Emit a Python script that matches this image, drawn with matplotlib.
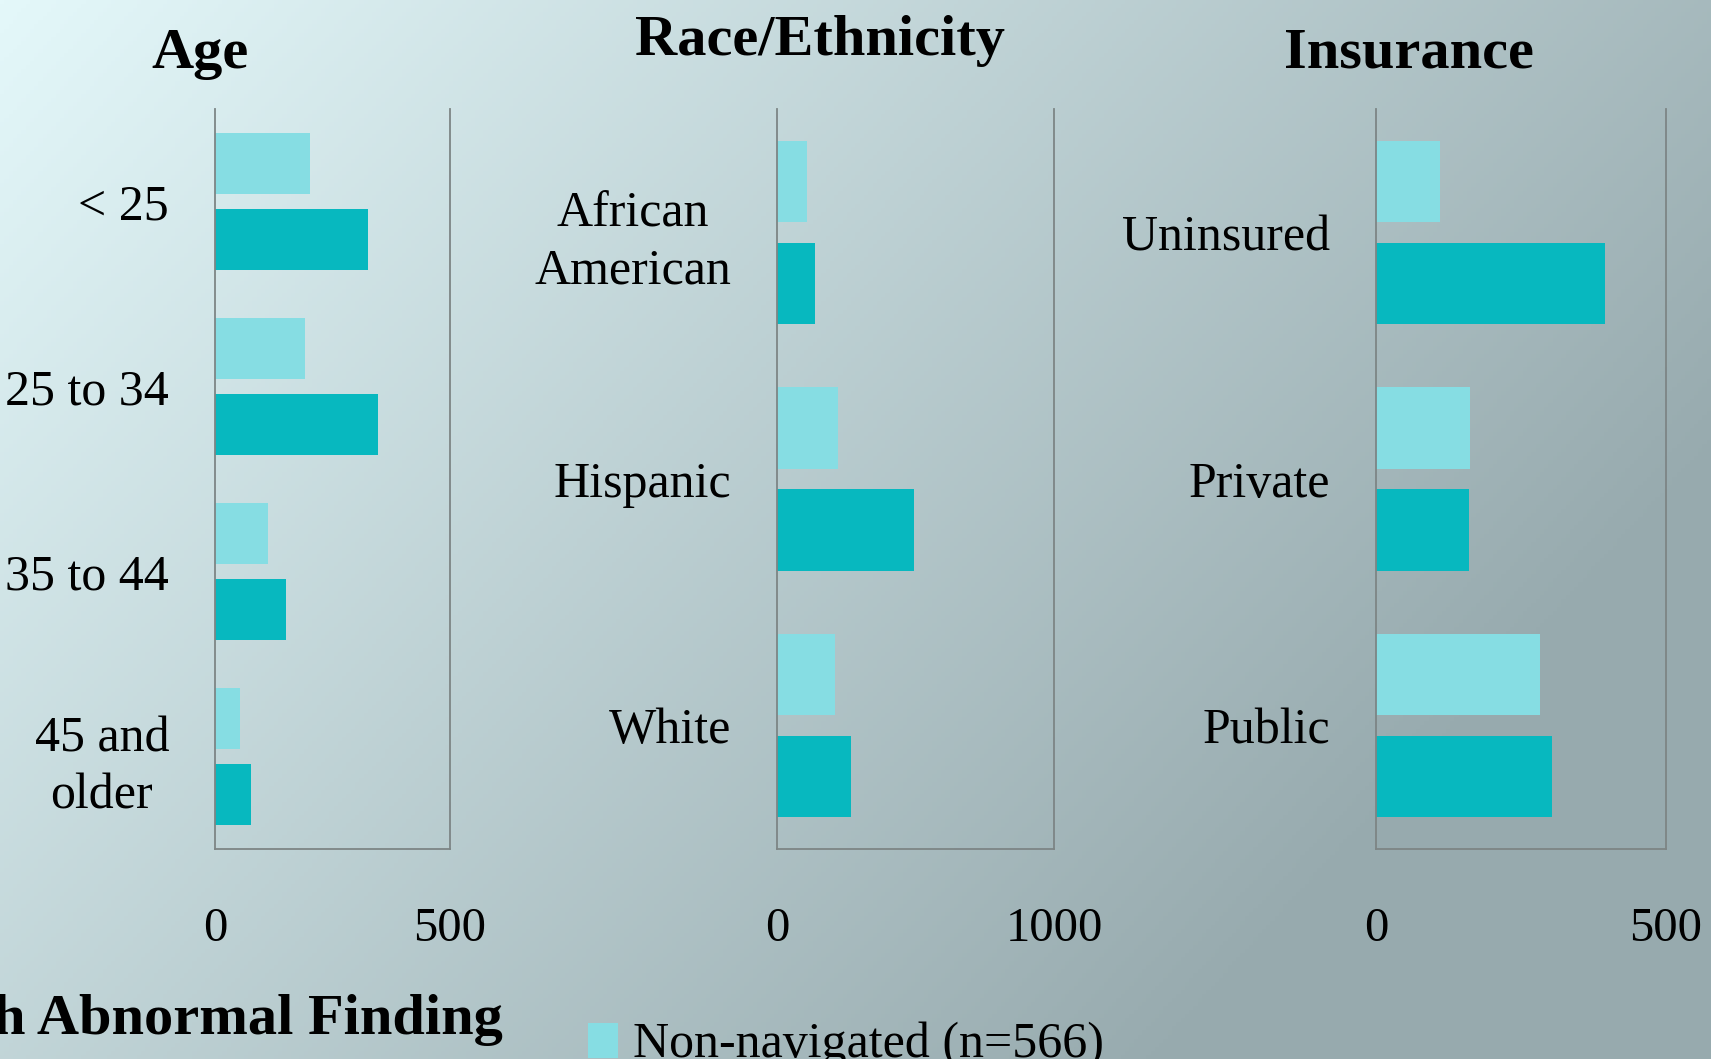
import numpy as np
import matplotlib
matplotlib.use("Agg")
import matplotlib.pyplot as plt
from matplotlib.colors import to_rgb

# values
age_cats = ["< 25", "25 to 34", "35 to 44", "45 and\nolder"]
age_non = [202, 191, 112, 53]
age_nav = [326, 347, 151, 77]

race_cats = ["African\nAmerican", "Hispanic", "White"]
race_non = [110, 220, 209]
race_nav = [138, 496, 268]

ins_cats = ["Uninsured", "Private", "Public"]
ins_non = [111, 162, 282]
ins_nav = [395, 160, 303]

light = "#86dde3"
dark = "#07b8bf"
spine_col = "#7d8585"

plt.rcParams["font.family"] = ["Liberation Serif", "DejaVu Serif"]

W, H = 1711, 1059
fig = plt.figure(figsize=(W / 100, H / 100), dpi=100)

# background gradient (light cyan top-left -> grey-blue right)
bg = fig.add_axes([0, 0, 1, 1], zorder=-10)
xx, yy = np.meshgrid(np.linspace(0, 1, 400), np.linspace(0, 1, 260))
t = np.clip(0.8 * xx + 0.45 * yy, 0, 1)[..., None]
c0 = np.array(to_rgb("#e4f8fa"))
c1 = np.array(to_rgb("#97aaae"))
bg.imshow(c0 * (1 - t) + c1 * t, aspect="auto", extent=[0, 1, 1, 0])
bg.set_axis_off()


def px_axes(left, right, top, bottom):
    return fig.add_axes([left / W, 1 - bottom / H, (right - left) / W, (bottom - top) / H])


def panel(ax, cats, non, nav, xmax):
    y = np.arange(len(cats))
    h = 0.33
    off = 0.2065
    ax.barh(y - off, non, height=h, color=light, label="Non-navigated (n=566)")
    ax.barh(y + off, nav, height=h, color=dark)
    ax.set_ylim(len(cats) - 0.5, -0.5)
    ax.set_xlim(0, xmax)
    ax.set_xticks([0, xmax])
    ax.set_yticks(y)
    ax.set_yticklabels(cats)
    for lab in ax.get_yticklabels():
        lab.set_multialignment("center")
        lab.set_linespacing(1.3)
    ax.tick_params(axis="y", length=0, pad=33, labelsize=36)
    ax.tick_params(axis="x", length=0, pad=42, labelsize=35)
    ax.patch.set_alpha(0)
    ax.spines["top"].set_visible(False)
    for s in ["left", "right", "bottom"]:
        ax.spines[s].set_color(spine_col)
        ax.spines[s].set_linewidth(1.3)


ax1 = px_axes(215, 450, 109, 849)
panel(ax1, age_cats, age_non, age_nav, 500)
ax2 = px_axes(777, 1054, 109, 849)
panel(ax2, race_cats, race_non, race_nav, 1000)
ax3 = px_axes(1376, 1666, 109, 849)
panel(ax3, ins_cats, ins_non, ins_nav, 500)

title_kw = dict(fontsize=42, fontweight="bold", ha="center", va="baseline")
fig.text(200 / W, 1 - 68 / H, "Age", **title_kw)
fig.text(820 / W, 1 - 55 / H, "Race/Ethnicity", **title_kw)
fig.text(1409 / W, 1 - 68 / H, "Insurance", **title_kw)

fig.text(503 / W, 1 - 1034 / H, "with Abnormal Finding", fontsize=42,
         fontweight="bold", ha="right", va="baseline")

handles, labels = ax1.get_legend_handles_labels()
fig.legend(handles[:1], labels[:1], loc="upper left",
           bbox_to_anchor=(588 / W, 1 - 1022 / H), frameon=False, fontsize=36,
           handlelength=0.6, handleheight=0.7, handletextpad=0.3,
           borderpad=0, borderaxespad=0)

fig.savefig("out.png", dpi=100)
